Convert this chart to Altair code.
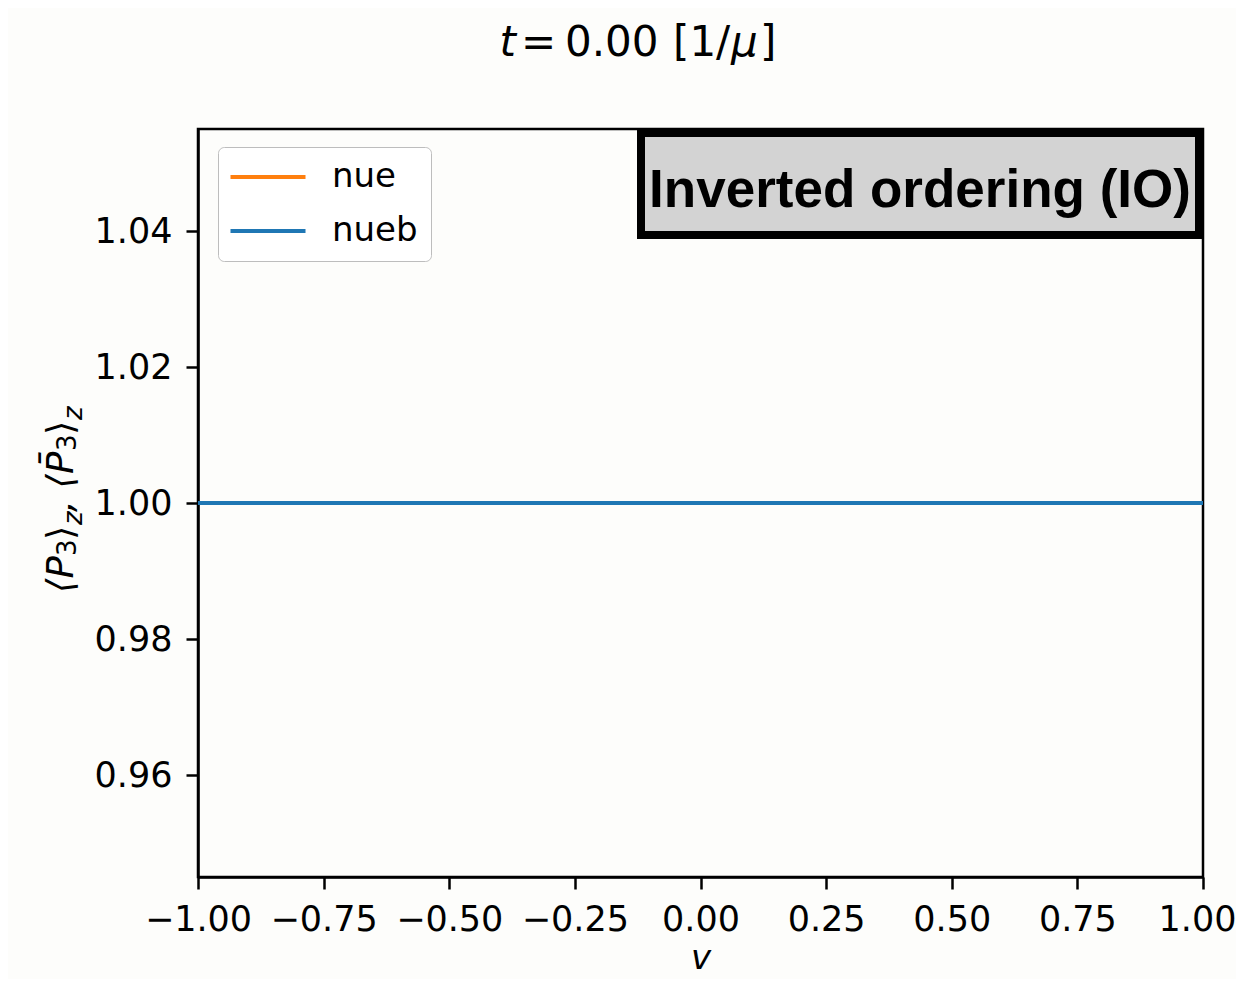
import altair as alt
import pandas as pd

# ---- data ----
v_values = [-1.0, -0.5, 0.0, 0.5, 1.0]
nue_values = [1.0, 1.0, 1.0, 1.0, 1.0]
nueb_values = [1.0, 1.0, 1.0, 1.0, 1.0]
series_names = ["nue", "nueb"]
series_colors = ["#ff7f0e", "#1f77b4"]
x_ticks = [-1.0, -0.75, -0.5, -0.25, 0.0, 0.25, 0.5, 0.75, 1.0]
y_ticks = [0.96, 0.98, 1.00, 1.02, 1.04]
x_domain = [-1.0, 1.0]
y_domain = [0.945, 1.055]
title_parts = ["t", "=", "0.00", "[1/", "\u03bc", "]"]
annotation_text = ["Inverted ordering (IO)"]
ylabel_parts = ["\u27e8P", "3", "\u27e9", "z", ", \u27e8P\u0304", "3", "\u27e9", "z"]
x_title = "v"

FONT = "DejaVu Sans"
W, H = 1005, 748

# layout of the composed (math-like) text pieces, in pixels relative to the plot origin
title_layout = [  # (x, align, italic)
    (318, "right", True), (323, "left", False), (367, "left", False),
    (475, "left", False), (533, "left", True), (562, "left", False)]
ylabel_layout = [  # (x baseline, y start, font size, italic)
    (-125, 464, 37, True), (-122, 427, 26, False), (-125, 411, 37, False),
    (-116, 396, 26, True), (-125, 383, 37, True), (-122, 322, 26, False),
    (-125, 306, 37, False), (-116, 291, 26, True)]

rows = []
for name, vals in zip(series_names, [nue_values, nueb_values]):
    for v, y in zip(v_values, vals):
        rows.append({"v": v, "value": y, "series": name})
df = pd.DataFrame(rows)

lines = alt.Chart(df).mark_line(strokeWidth=4, clip=True).encode(
    x=alt.X("v:Q",
            scale=alt.Scale(domain=x_domain, nice=False, zero=False),
            axis=alt.Axis(values=x_ticks, format=".2f", title=x_title,
                          labelPadding=13, titlePadding=4,
                          labelOverlap=False, labelFlush=False,
                          labelOffset={"condition": {"test": "datum.value >= 1", "value": -6},
                                       "value": 0},
                          titleFontStyle="italic", titleFontWeight="normal",
                          titleFont=FONT, titleFontSize=34, titleColor="black")),
    y=alt.Y("value:Q",
            scale=alt.Scale(domain=y_domain, nice=False, zero=False),
            axis=alt.Axis(values=y_ticks, format=".2f", title=None, labelPadding=14,
                          labelOverlap=False, labelFlush=False)),
    color=alt.Color("series:N",
                    scale=alt.Scale(domain=series_names, range=series_colors),
                    legend=alt.Legend(title=None, orient="none", legendX=20, legendY=18,
                                      symbolType="M-2.5,0H2.5", symbolSize=900,
                                      symbolStrokeWidth=4, labelFont=FONT,
                                      labelFontSize=34, labelColor="black",
                                      labelOffset=47, rowPadding=20, padding=13,
                                      symbolOffset=20,
                                      fillColor="white", strokeColor="#bdbdbd",
                                      cornerRadius=6)),
)


def text_layer(txt, x, y, **kw):
    d = pd.DataFrame({"txt": [txt]})
    return alt.Chart(d).mark_text(**kw).encode(
        x=alt.value(x), y=alt.value(y), text="txt:N")


layers = [lines]

box_df = pd.DataFrame({"txt": annotation_text})
box = alt.Chart(box_df).mark_rect(fill="#d3d3d3", stroke="black", strokeWidth=8).encode(
    x=alt.value(443), x2=alt.value(1001), y=alt.value(4), y2=alt.value(106))
box_text = alt.Chart(box_df).mark_text(font="Liberation Sans", fontSize=53, fontWeight="bold",
                                       color="black", align="center", baseline="alphabetic").encode(
    x=alt.value(722), y=alt.value(78), text="txt:N")
layers += [box, box_text]

for txt, (x, align, italic) in zip(title_parts, title_layout):
    layers.append(text_layer(txt, x, -73, align=align, baseline="alphabetic", font=FONT,
                             fontSize=42, fontStyle="italic" if italic else "normal",
                             color="black"))

for txt, (x, y, fs, italic) in zip(ylabel_parts, ylabel_layout):
    layers.append(text_layer(txt, x, y, angle=270, align="left", baseline="alphabetic",
                             font=FONT, fontSize=fs,
                             fontStyle="italic" if italic else "normal", color="black"))

chart = alt.layer(*layers).properties(
    width=W, height=H,
    autosize=alt.AutoSizeParams(type="none"),
    padding={"left": 190, "top": 121, "right": 33, "bottom": 102},
    background="#fdfdfb",
).configure_view(
    stroke="black", strokeWidth=2.5, fill="#fdfdfb"
).configure_axis(
    labelFont=FONT, labelFontSize=35, labelColor="black",
    tickColor="black", tickWidth=2.5, tickSize=12,
    domainColor="black", domainWidth=2.5, grid=False,
)

chart.save("out.html", embed_options={"renderer": "svg", "actions": False})
